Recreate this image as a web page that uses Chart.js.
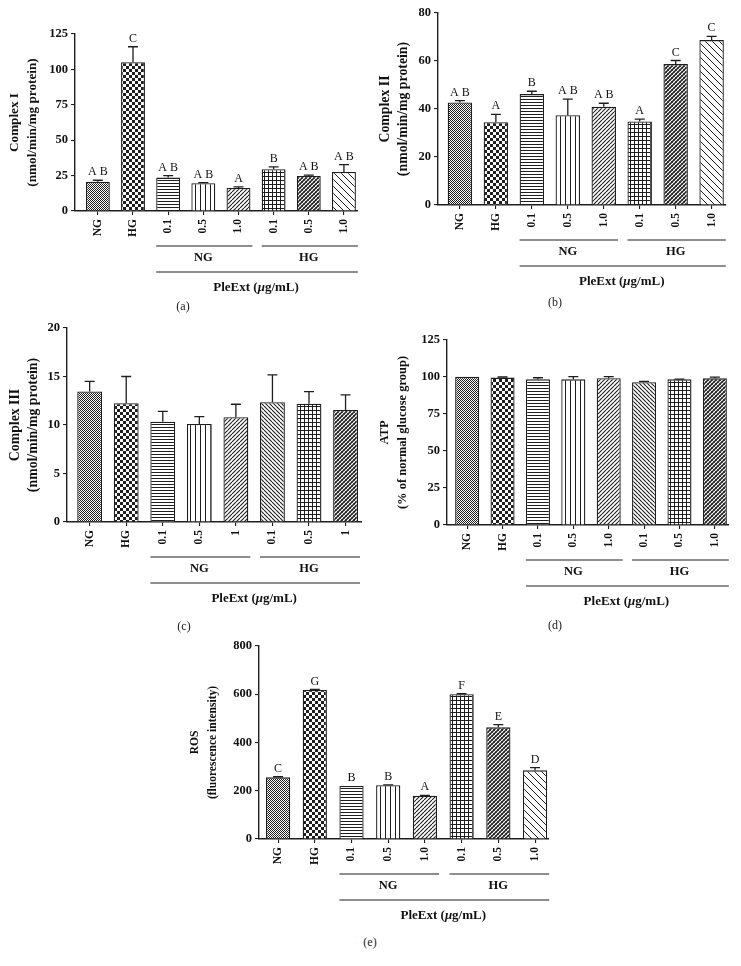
<!DOCTYPE html>
<html>
<head>
<meta charset="utf-8">
<script src="https://cdn.jsdelivr.net/npm/chart.js@4.4.0/dist/chart.umd.min.js"></script>
<style>
    body { margin: 0; background: #fff; width: 741px; height: 966px; position: relative; overflow: hidden; }
    .panel { position: absolute; }
    .cap { position: absolute; font: 12px 'Liberation Serif', serif; color: #222; transform: translate(-50%, -50%); }
</style>
</head>
<body>
<div class="panel" id="pa"><canvas id="chartA"></canvas></div>
<div class="panel" id="pb"><canvas id="chartB"></canvas></div>
<div class="panel" id="pc"><canvas id="chartC"></canvas></div>
<div class="panel" id="pd"><canvas id="chartD"></canvas></div>
<div class="panel" id="pe"><canvas id="chartE"></canvas></div>
<div class="cap" style="left:183px;top:306px">(a)</div>
<div class="cap" style="left:555px;top:302px">(b)</div>
<div class="cap" style="left:184px;top:626px">(c)</div>
<div class="cap" style="left:555px;top:625px">(d)</div>
<div class="cap" style="left:370px;top:942px">(e)</div>
<script>
// categories
const groups = ['NG', 'HG', '0.1', '0.5', '1.0', '0.1', '0.5', '1.0'];
const groupsC = ['NG', 'HG', '0.1', '0.5', '1', '0.1', '0.5', '1'];
const doseGroups = ['NG', 'HG'];

// (a) complex I
const complexI = [20.6, 105.1, 23.6, 19.6, 16.3, 29.5, 24.8, 27.6];
const complexIErr = [1.1, 10.9, 1.4, 0.4, 0.7, 1.7, 0.5, 5.2];
const complexILetters = ['A B', 'C', 'A B', 'A B', 'A', 'B', 'A B', 'A B'];
const ticksI = [0, 25, 50, 75, 100, 125];

// (b) complex II
const complexII = [42.7, 34.5, 46.2, 37.4, 40.9, 34.8, 58.7, 68.7];
const complexIIErr = [0.8, 3.3, 1.2, 6.7, 1.5, 1.0, 1.5, 1.6];
const complexIILetters = ['A B', 'A', 'B', 'A B', 'A B', 'A', 'C', 'C'];
const ticksII = [0, 20, 40, 60, 80];

// (c) complex III
const complexIII = [13.45, 12.24, 10.34, 10.1, 10.8, 12.34, 12.2, 11.55];
const complexIIIErr = [1.05, 2.76, 1.06, 0.76, 1.34, 2.83, 1.25, 1.55];
const ticksIII = [0, 5, 10, 15, 20];

// (d) ATP
const atp = [100.1, 99.6, 98.4, 98.4, 99.2, 96.5, 98.4, 99.1];
const atpErr = [0, 0.4, 1.1, 1.8, 1.0, 0.6, 0.2, 0.8];
const ticksATP = [0, 25, 50, 75, 100, 125];

// (e) ROS
const ros = [255.6, 617.6, 219.7, 222.5, 179.6, 599.7, 462.9, 284.6];
const rosErr = [2.4, 2.4, 0, 1.5, 1.4, 2.3, 11, 11.4];
const rosLetters = ['C', 'G', 'B', 'B', 'A', 'F', 'E', 'D'];
const ticksROS = [0, 200, 400, 600, 800];

const SERIF = "'Liberation Serif', 'DejaVu Serif', serif";
const INK = '#1e1e1e';

// fill patterns for the bars
function makeTile(type) {
    const sizes = { fine: 2, check: 6, hlines: 3, vlines: 5, diag: 4, grid: 4, cross: 4, bdiag: 7, bdiagDense: 4 };
    const s = sizes[type];
    const c = document.createElement('canvas');
    c.width = s; c.height = s;
    const g = c.getContext('2d');
    g.fillStyle = '#fff';
    g.fillRect(0, 0, s, s);
    g.fillStyle = INK;
    g.strokeStyle = INK;
    const fwd = (w) => { g.lineWidth = w; g.beginPath(); [-s, 0, s].forEach(o => { g.moveTo(o, s); g.lineTo(o + s, 0); }); g.stroke(); };
    const back = (w) => { g.lineWidth = w; g.beginPath(); [-s, 0, s].forEach(o => { g.moveTo(o, 0); g.lineTo(o + s, s); }); g.stroke(); };
    if (type === 'fine') { g.fillRect(0, 0, 1, 1); g.fillRect(1, 1, 1, 1); }
    if (type === 'check') { g.fillRect(0, 0, 3, 3); g.fillRect(3, 3, 3, 3); }
    if (type === 'hlines') g.fillRect(0, 0, s, 1);
    if (type === 'vlines') g.fillRect(0, 0, 1, s);
    if (type === 'grid') { g.fillRect(0, 0, s, 1); g.fillRect(0, 0, 1, s); }
    if (type === 'diag') fwd(1.1);
    if (type === 'cross') { fwd(1.5); back(0.7); }
    if (type === 'bdiag') back(1);
    if (type === 'bdiagDense') back(1.1);
    return c;
}
const patternCache = {};
function pattern(ctx, type) {
    if (!patternCache[type]) patternCache[type] = ctx.createPattern(makeTile(type), 'repeat');
    return patternCache[type];
}

const errorBars = {
    id: 'errorBars',
    afterDatasetsDraw(chart, args, opts) {
        const { ctx, scales: { x, y } } = chart;
        ctx.save();
        ctx.strokeStyle = INK;
        ctx.lineWidth = 1.3;
        ctx.fillStyle = '#111';
        ctx.font = '12px ' + SERIF;
        ctx.textAlign = 'center';
        ctx.textBaseline = 'bottom';
        chart.data.datasets[0].data.forEach((d, i) => {
            const e = opts.errors[i];
            const px = x.getPixelForValue(d.x);
            const yb = y.getPixelForValue(d.y);
            const yt = y.getPixelForValue(d.y + e);
            if (e > 0) {
                ctx.beginPath();
                ctx.moveTo(px, yb);
                ctx.lineTo(px, yt);
                ctx.moveTo(px - 5, yt);
                ctx.lineTo(px + 5, yt);
                ctx.stroke();
            }
            if (opts.letters) ctx.fillText(opts.letters[i], px, yt - 2);
        });
        ctx.restore();
    }
};

const groupLines = {
    id: 'groupLines',
    afterDraw(chart, args, opts) {
        const { ctx, scales: { x }, chartArea } = chart;
        const half = (x.getPixelForValue(1) - x.getPixelForValue(0)) * opts.barPct / 2;
        const l = i => x.getPixelForValue(i) - half;
        const r = i => x.getPixelForValue(i) + half;
        const z = chartArea.bottom;
        ctx.save();
        ctx.strokeStyle = INK;
        ctx.lineWidth = 1.1;
        const seg = (a, b, yy) => { ctx.beginPath(); ctx.moveTo(a, yy); ctx.lineTo(b, yy); ctx.stroke(); };
        seg(l(2), r(4) + 2, z + 35);
        seg(l(5), r(7) + 2, z + 35);
        seg(l(2), r(7) + 2, z + 61);
        ctx.fillStyle = '#111';
        ctx.textBaseline = 'middle';
        ctx.textAlign = 'center';
        ctx.font = 'bold 12.5px ' + SERIF;
        ctx.fillText(doseGroups[0], x.getPixelForValue(3), z + 47);
        ctx.fillText(doseGroups[1], x.getPixelForValue(6), z + 47);
        // PleExt (μg/mL) with italic mu
        const parts = [['PleExt (', 'bold 13px '], ['\u03bc', 'italic bold 13px '], ['g/mL)', 'bold 13px ']];
        let total = 0;
        parts.forEach(p => { ctx.font = p[1] + SERIF; total += ctx.measureText(p[0]).width; });
        let cx = (l(2) + r(7)) / 2 - total / 2;
        ctx.textAlign = 'left';
        parts.forEach(p => { ctx.font = p[1] + SERIF; ctx.fillText(p[0], cx, z + 77); cx += ctx.measureText(p[0]).width; });
        ctx.restore();
    }
};

function drawPanel(p) {
    const div = document.getElementById(p.div);
    const h = p.zero + 92 - p.top;
    const w = p.axisR + 6 - p.left;
    Object.assign(div.style, { left: p.left + 'px', top: p.top + 'px', width: w + 'px', height: h + 'px' });
    const ctx = document.getElementById(p.canvas).getContext('2d');
    new Chart(ctx, {
        type: 'bar',
        data: {
            datasets: [{
                data: p.values.map((v, i) => ({ x: i, y: v })),
                backgroundColor: p.patterns.map(t => pattern(ctx, t)),
                borderColor: INK,
                borderWidth: 1.3,
                barPercentage: p.barPct,
                categoryPercentage: 1
            }]
        },
        options: {
            responsive: true,
            maintainAspectRatio: false,
            animation: false,
            layout: { padding: { top: p.yTop - p.top, right: 6, left: 0, bottom: 0 } },
            plugins: {
                legend: { display: false },
                tooltip: { enabled: false },
                errorBars: { errors: p.errors, letters: p.letters },
                groupLines: { barPct: p.barPct }
            },
            scales: {
                x: {
                    type: 'linear',
                    offset: false,
                    min: p.xmin,
                    max: p.xmax,
                    afterBuildTicks: axis => { axis.ticks = p.labels.map((c, i) => ({ value: i })); },
                    afterFit: axis => { axis.height = h - (p.zero - p.top); axis.paddingLeft = 0; axis.paddingRight = 0; },
                    grid: { offset: false, drawOnChartArea: false, drawTicks: true, tickLength: 4, color: INK, lineWidth: 1.1 },
                    border: { color: INK, width: 1.4 },
                    ticks: {
                        autoSkip: false,
                        minRotation: 90,
                        maxRotation: 90,
                        padding: 4,
                        color: '#111',
                        font: { family: SERIF, size: 11.5, weight: 'bold' },
                        callback: v => p.labels[v]
                    }
                },
                y: {
                    min: 0,
                    max: p.ticks[p.ticks.length - 1],
                    afterBuildTicks: axis => { axis.ticks = p.ticks.map(v => ({ value: v })); },
                    afterFit: axis => { axis.width = p.axisL - p.left; axis.paddingTop = 0; axis.paddingBottom = 0; },
                    grid: { drawOnChartArea: false, drawTicks: true, tickLength: 4, color: INK, lineWidth: 1.1 },
                    border: { color: INK, width: 1.4 },
                    ticks: {
                        padding: 3,
                        color: '#111',
                        font: { family: SERIF, size: p.tickSize, weight: 'bold' }
                    },
                    title: {
                        display: true,
                        text: p.title,
                        color: '#111',
                        padding: { top: 6, bottom: 0 },
                        font: { family: SERIF, size: p.titleSize, weight: 'bold', lineHeight: 18 / p.titleSize }
                    }
                }
            }
        },
        plugins: [errorBars, groupLines]
    });
}

const patternsABE = ['fine', 'check', 'hlines', 'vlines', 'diag', 'grid', 'cross', 'bdiag'];
const patternsCD = ['fine', 'check', 'hlines', 'vlines', 'diag', 'bdiagDense', 'grid', 'cross'];

document.addEventListener('DOMContentLoaded', () => {
    drawPanel({ div: 'pa', canvas: 'chartA', left: 0, top: 0, axisL: 75, axisR: 358, yTop: 34, zero: 211, xmin: -0.65, xmax: 7.4, barPct: 0.68,
        tickSize: 12.5, titleSize: 13.2,
        labels: groups, values: complexI, errors: complexIErr, letters: complexILetters, ticks: ticksI,
        title: ['Complex I', '(nmol/min/mg protein)'], patterns: patternsABE });
    drawPanel({ div: 'pb', canvas: 'chartB', left: 370, top: 0, axisL: 438, axisR: 726, yTop: 13, zero: 205, xmin: -0.61, xmax: 7.4, barPct: 0.68,
        tickSize: 12.5, titleSize: 13.8,
        labels: groups, values: complexII, errors: complexIIErr, letters: complexIILetters, ticks: ticksII,
        title: ['Complex II', '(nmol/min/mg protein)'], patterns: patternsABE });
    drawPanel({ div: 'pc', canvas: 'chartC', left: 0, top: 310, axisL: 67, axisR: 362, yTop: 328, zero: 522, xmin: -0.62, xmax: 7.45, barPct: 0.68,
        tickSize: 12.5, titleSize: 13.8,
        labels: groupsC, values: complexIII, errors: complexIIIErr, letters: null, ticks: ticksIII,
        title: ['Complex III', '(nmol/min/mg protein)'], patterns: patternsCD });
    drawPanel({ div: 'pd', canvas: 'chartD', left: 370, top: 310, axisL: 447, axisR: 729, yTop: 340, zero: 525, xmin: -0.57, xmax: 7.4, barPct: 0.68,
        tickSize: 12.5, titleSize: 12.5,
        labels: groups, values: atp, errors: atpErr, letters: null, ticks: ticksATP,
        title: ['ATP', '(% of normal glucose group)'], patterns: patternsCD });
    drawPanel({ div: 'pe', canvas: 'chartE', left: 180, top: 620, axisL: 259, axisR: 549, yTop: 646, zero: 839, xmin: -0.52, xmax: 7.38, barPct: 0.66,
        tickSize: 12.5, titleSize: 11.5,
        labels: groups, values: ros, errors: rosErr, letters: rosLetters, ticks: ticksROS,
        title: ['ROS', '(fluorescence intensity)'], patterns: patternsABE });
});
</script>
</body>
</html>
